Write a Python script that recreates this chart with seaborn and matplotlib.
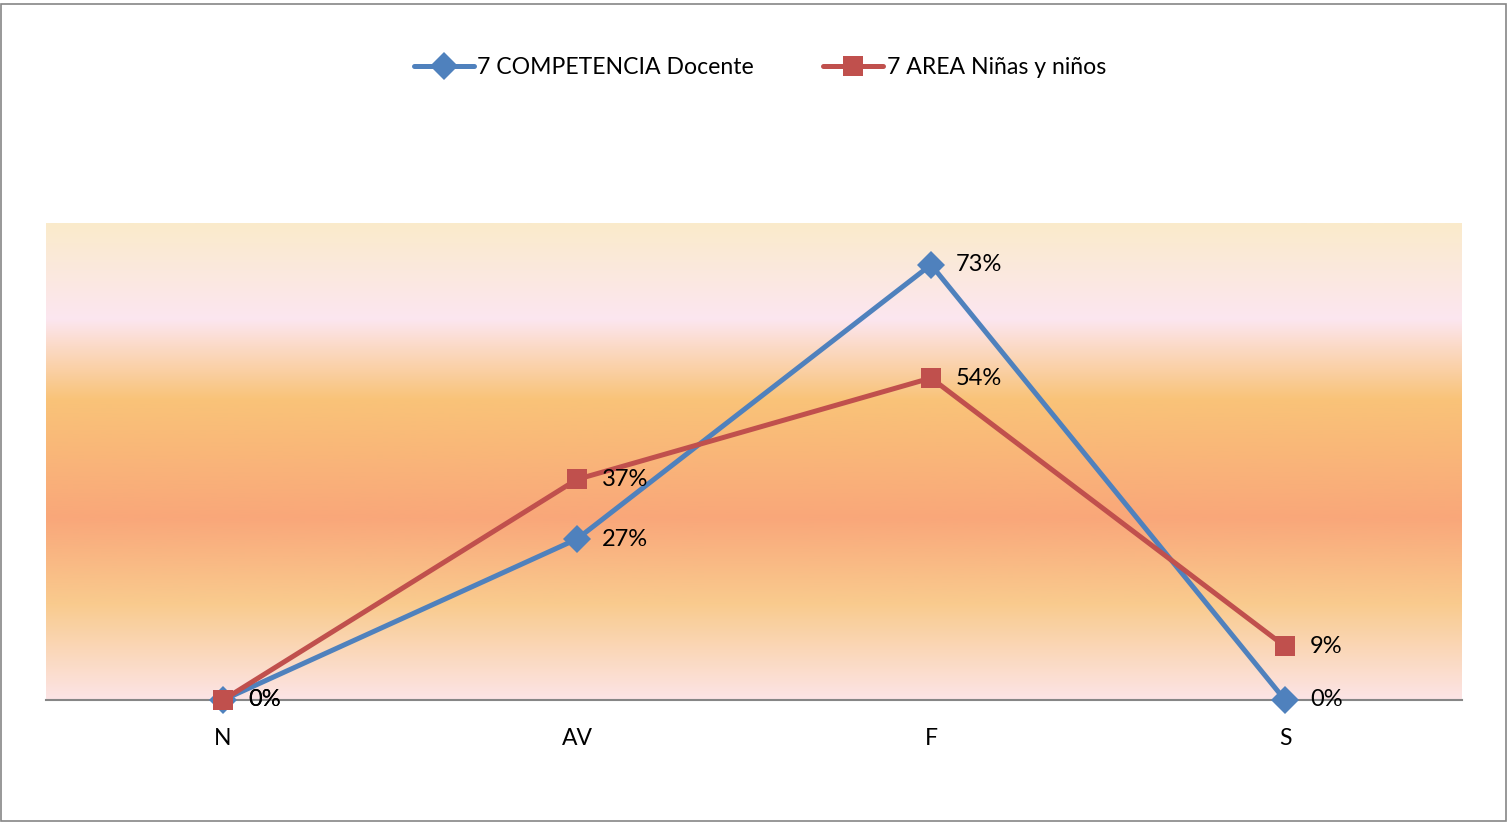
import numpy as np
import pandas as pd
import matplotlib
matplotlib.use("Agg")
import matplotlib.pyplot as plt
import seaborn as sns
from matplotlib.colors import LinearSegmentedColormap
from matplotlib.patches import Rectangle

# data
categories = ["N", "AV", "F", "S"]
docente = [0.0, 0.27, 0.73, 0.0]
ninos = [0.0, 0.37, 0.54, 0.09]
series_names = ["7 COMPETENCIA Docente", "7 AREA Niñas y niños"]

blue = "#4F81BD"
red = "#C0504D"

df = pd.DataFrame({
    "cat": categories * 2,
    "val": docente + ninos,
    "serie": [series_names[0]] * 4 + [series_names[1]] * 4,
})

sns.set_style("white")
plt.rcParams["font.family"] = ["Lato", "DejaVu Sans"]
plt.rcParams["text.color"] = "black"
plt.rcParams["xtick.color"] = "black"

fig = plt.figure(figsize=(15.09, 8.23), dpi=100)
ax = fig.add_axes([46 / 1509, 1 - 700 / 823, (1462 - 46) / 1509, (700 - 223) / 823])

# gradient background of the plot area (top -> bottom)
grad = LinearSegmentedColormap.from_list("bg", [
    (0.0, "#FAEBCB"),
    (0.20, "#FCE6F0"),
    (0.37, "#F9C378"),
    (0.62, "#F9A77A"),
    (0.80, "#F9CB8E"),
    (1.0, "#FCE4E6"),
])
ax.imshow(np.linspace(0, 1, 256).reshape(-1, 1), cmap=grad, aspect="auto",
          extent=(-0.5, 3.5, 0.0, 0.8), zorder=0, origin="upper")

sns.lineplot(data=df, x="cat", y="val", hue="serie", style="serie",
             palette=[blue, red], markers=["D", "s"], dashes=False,
             linewidth=3.6, markersize=14, markeredgewidth=0, ax=ax,
             legend=True, sort=False, zorder=3, clip_on=False)

for vals in (docente, ninos):
    for i, v in enumerate(vals):
        ax.annotate(f"{v:.0%}", (i, v), xytext=(18, 0), textcoords="offset points",
                    ha="left", va="center", fontsize=17, color="black", zorder=4)

ax.set_xlim(-0.5, 3.5)
ax.set_ylim(0, 0.8)
ax.set_xlabel("")
ax.set_ylabel("")
ax.set_yticks([])
ax.tick_params(axis="x", length=0, labelsize=16.5, pad=20)
for s in ["top", "left", "right"]:
    ax.spines[s].set_visible(False)
ax.spines["bottom"].set_color("#868686")
ax.spines["bottom"].set_linewidth(1.5)
ax.spines["bottom"].set_zorder(2)

handles, labels = ax.get_legend_handles_labels()
ax.legend(handles, labels, loc="center", bbox_to_anchor=(760 / 1509, 1 - 68 / 823),
          bbox_transform=fig.transFigure, ncol=2, frameon=False, fontsize=16.6,
          handlelength=2.6, columnspacing=3, handletextpad=0.15)

fig.patches.append(Rectangle((1 / 1509, 2 / 823), 1505 / 1509, 817 / 823,
                             transform=fig.transFigure, fill=False,
                             edgecolor="#868686", linewidth=1.2))

fig.savefig("out.png", dpi=100)
